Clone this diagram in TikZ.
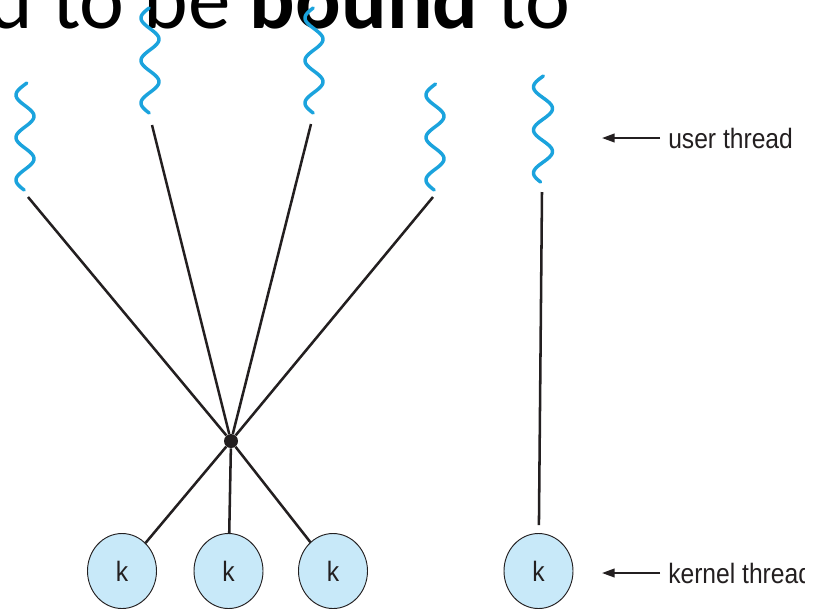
\documentclass[tikz,border=0pt]{standalone}
\usepackage{fontspec}
\newfontfamily\slidefont{Carlito}
\newfontfamily\labelfont[FakeStretch=0.88]{Liberation Sans}
\usetikzlibrary{arrows.meta,shapes.geometric}
\definecolor{threadblue}{RGB}{27,163,221}
\definecolor{kernfill}{RGB}{200,233,249}
\definecolor{ink}{RGB}{35,31,32}
\begin{document}
\begin{tikzpicture}[x=0.75pt,y=-0.75pt,
        uwave/.style={draw=threadblue,line width=2.6pt,line cap=round,line join=round},
        link/.style={draw=ink,line width=1.9pt},
        hub/.style={circle,fill=ink,minimum size=10.5pt,inner sep=0pt},
        kern/.style={ellipse,draw=ink,fill=kernfill,line width=0.7pt,
            minimum width=51.75pt,minimum height=56.25pt,inner sep=0pt,
            font=\labelfont\fontsize{21}{25}\selectfont,text=ink},
        lbl/.style={inner sep=0pt,font=\labelfont\fontsize{21}{25}\selectfont,text=ink},
        pointer/.style={draw=ink,line width=1.5pt,shorten <=6pt,-{Triangle[length=9.5pt,width=6.5pt]}}]
    \useasboundingbox (0,0) rectangle (821,608);
    % Slide text behind the figure
    \node[anchor=base west,inner sep=0pt,font=\slidefont\fontsize{63.75}{70}\selectfont] (title) at (-12,28)
        {d to be \textbf{bound} to};
    % User threads
    \draw[uwave] plot[domain=0:107,samples=90] ({25-9*cos((\x-12)/21.25*180)},{83+\x});
    \draw[uwave] plot[domain=0:105,samples=90] ({150-9*cos((\x-10)/21.25*180)},{8+\x});
    \draw[uwave] plot[domain=0:105,samples=90] ({314-9*cos((\x-10)/21.25*180)},{8+\x});
    \draw[uwave] plot[domain=0:106,samples=90] ({435-9*cos((\x-11)/21.25*180)},{84+\x});
    \draw[uwave] plot[domain=0:106,samples=90] ({543-9.5*cos((\x-11)/21.5*180)},{76+\x});
    \coordinate (u1) at (28,197);
    \coordinate (u2) at (152,125);
    \coordinate (u3) at (311,124);
    \coordinate (u4) at (433,197);
    \coordinate (u5) at (542,192);
    % Many to many
    \node[hub] (m) at (231,441) {};
    \node[kern] (k1) at (122,571) {k};
    \node[kern] (k2) at (228.5,571) {k};
    \node[kern] (k3) at (333,571) {k};
    \draw[link] (u1) -- (m);
    \draw[link] (u2) -- (m);
    \draw[link] (u3) -- (m);
    \draw[link] (u4) -- (m);
    \draw[link] (m) -- (k1);
    \draw[link] (m) -- (k2);
    \draw[link] (m) -- (k3);
    % Bound thread
    \node[kern] (k4) at (538.5,571) {k};
    \draw[link,shorten >=6pt] (u5) -- (k4);
    % Labels, cut at the slide's edge
    \begin{scope}
        \clip (0,0) rectangle (804,608);
        \node[lbl,anchor=west] (ulbl) at (668,138) {user thread};
        \node[lbl,anchor=west] (klbl) at (668,573) {kernel thread};
    \end{scope}
    \coordinate (uarr) at (602,138);
    \draw[pointer] (ulbl) -- (uarr);
    \coordinate (karr) at (602,573);
    \draw[pointer] (klbl) -- (karr);
\end{tikzpicture}
\end{document}
